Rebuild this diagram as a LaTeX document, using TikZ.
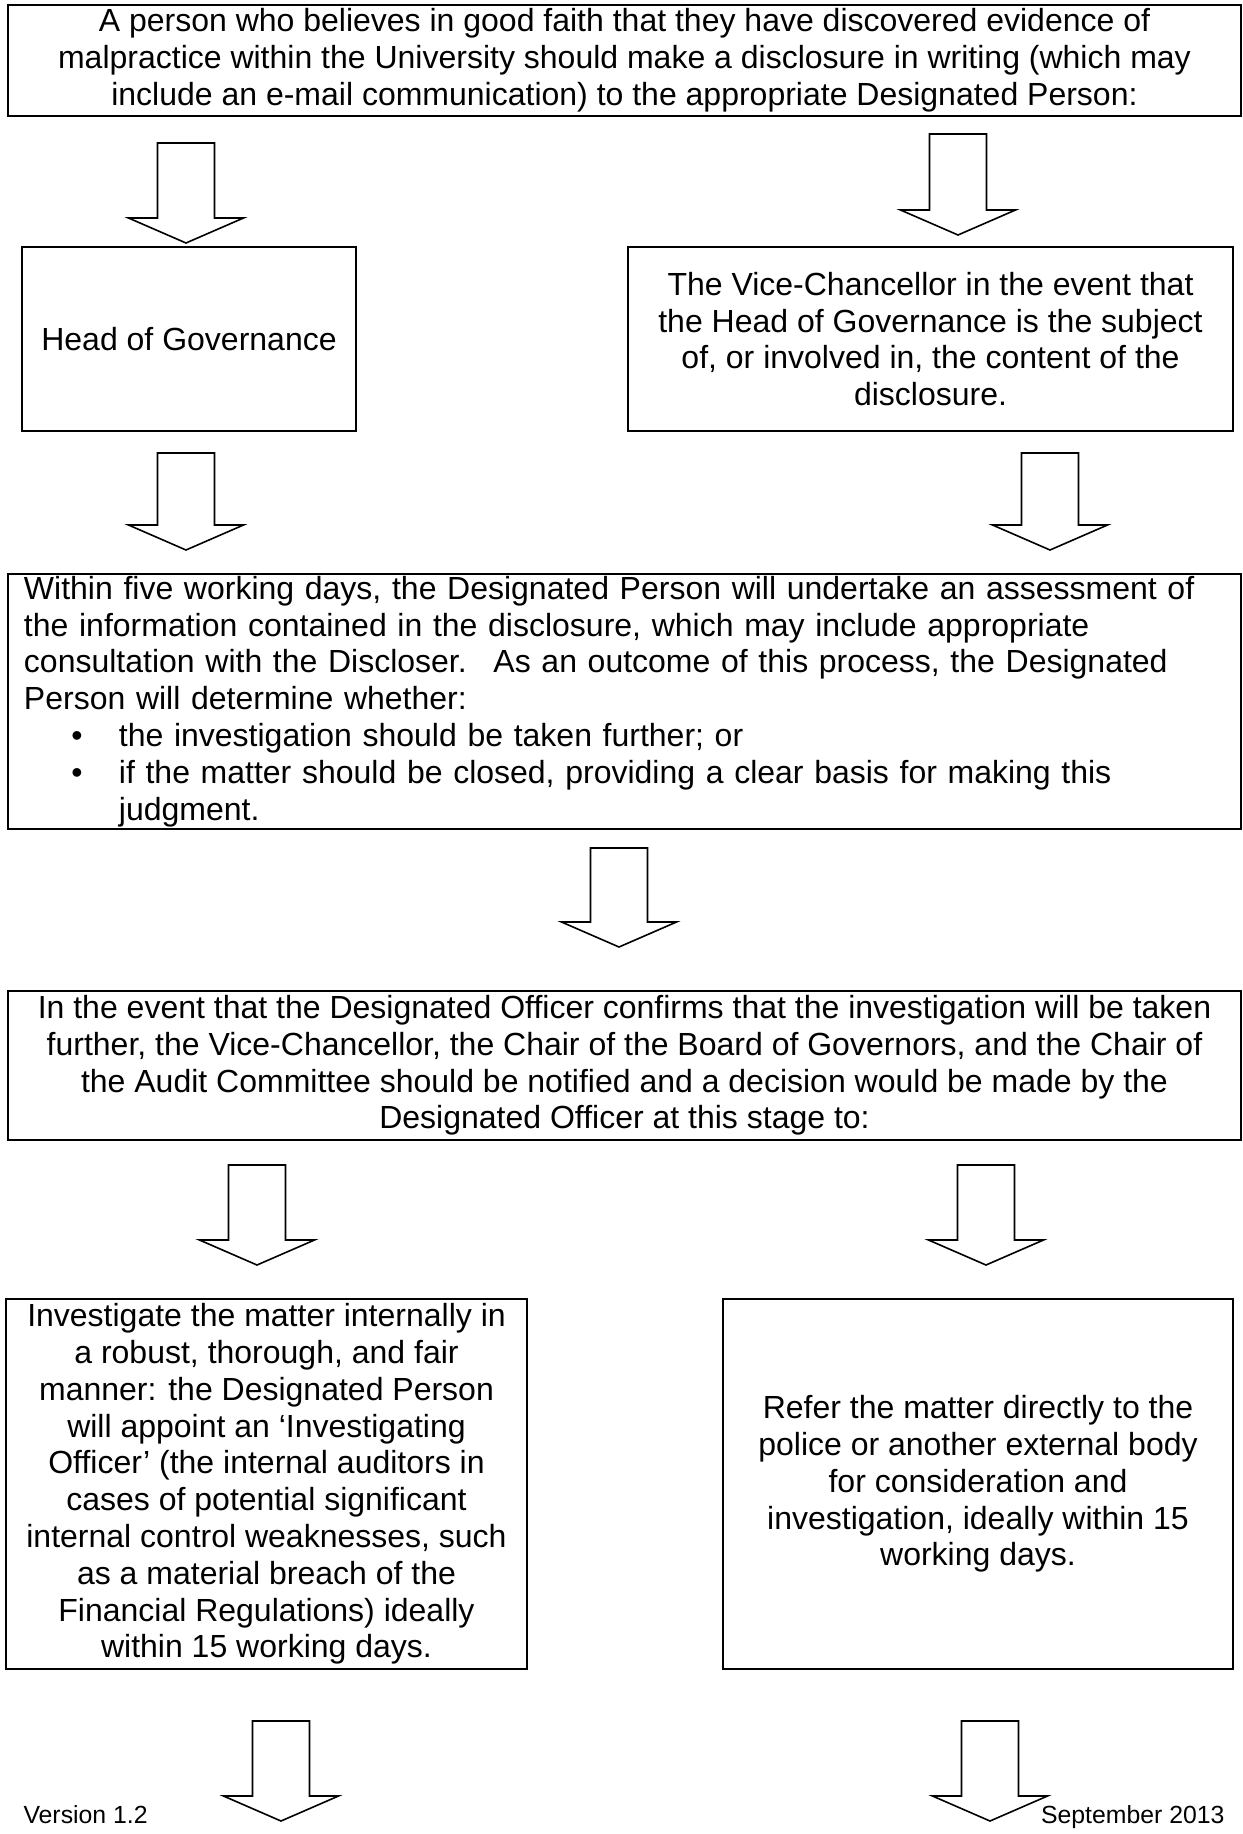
\documentclass[tikz,border=0pt]{standalone}
\usepackage{fontspec}
\setmainfont{Liberation Sans}
\tikzset{
  box/.style={draw, line width=1.1pt, inner sep=0pt, align=center,
    font=\fontsize{12}{13.8}\selectfont},
  blockarrow/.style={draw, line width=0.6pt, fill=white, line join=miter},
  footer/.style={inner sep=0pt, font=\fontsize{9.3}{11}\selectfont}
}
% box from corner (x1,y1) to (x2,y2), in px
\newcommand\flowbox[7][]{%
  \pgfmathsetmacro\fbcx{(#3+#5)/2}%
  \pgfmathsetmacro\fbcy{(#4+#6)/2}%
  \pgfmathsetmacro\fbww{(#5-#3)*0.375}%
  \pgfmathsetmacro\fbhh{(#6-#4)*0.375}%
  \node[box, minimum width=\fbww pt, minimum height=\fbhh pt, #1] (#2) at (\fbcx,\fbcy) {#7};}
% block arrow: name, centre x, top y, tip y
\newcommand\blockarr[4]{%
  \pgfmathsetmacro\bahb{#4-25}%
  \draw[blockarrow] (#2-28.5,#3) -- (#2+28.5,#3) -- (#2+28.5,\bahb) -- (#2+57.5,\bahb)
    -- (#2,#4) -- (#2-57.5,\bahb) -- (#2-28.5,\bahb) -- cycle;
  \coordinate (#1) at (#2,#4);}
\newcommand\bul{\makebox[35.6pt][l]{\hspace{17.8pt}\textbullet}}
\newcommand\ind{\hspace*{35.6pt}}
\begin{document}
\begin{tikzpicture}[x=0.375pt, y=-0.375pt]
\useasboundingbox (0,0) rectangle (1242,1834);

\flowbox{b1}{8}{5}{1241}{116}{A person who believes in good faith that they have discovered evidence of\\
malpractice within the University should make a disclosure in writing (which may\\
include an e-mail communication) to the appropriate Designated Person:}

\blockarr{a1}{186}{143}{243}
\blockarr{a2}{958}{134}{235}

\flowbox{b2a}{22}{247}{356}{431}{Head of Governance}
\flowbox{b2b}{628}{247}{1233}{431}{The Vice-Chancellor in the event that\\the Head of Governance is the subject\\of, or involved in, the content of the\\disclosure.}

\blockarr{a3}{186}{453}{550}
\blockarr{a4}{1050}{453}{550}

\flowbox[align=left, text width=450.375pt]{b3}{8}{574}{1241}{829}{Within five working days, the Designated Person will undertake an assessment of\\
the information contained in the disclosure, which may include appropriate\\
consultation with the Discloser.~ As an outcome of this process, the Designated\\
Person will determine whether:\\
\bul the investigation should be taken further; or\\
\bul if the matter should be closed, providing a clear basis for making this\\
\ind judgment.}

\blockarr{a5}{619}{848}{947}

\flowbox{b4}{8}{991}{1241}{1140}{In the event that the Designated Officer confirms that the investigation will be taken\\
further, the Vice-Chancellor, the Chair of the Board of Governors, and the Chair of\\
the Audit Committee should be notified and a decision would be made by the\\
Designated Officer at this stage to:}

\blockarr{a6}{257}{1165}{1265}
\blockarr{a7}{986}{1165}{1265}

\flowbox{b5a}{6}{1299}{527}{1669}{Investigate the matter internally in\\a robust, thorough, and fair\\manner: the Designated Person\\will appoint an ‘Investigating\\Officer’ (the internal auditors in\\cases of potential significant\\internal control weaknesses, such\\as a material breach of the\\Financial Regulations) ideally\\within 15 working days.}
\flowbox{b5b}{723}{1299}{1233}{1669}{Refer the matter directly to the\\police or another external body\\for consideration and\\investigation, ideally within 15\\working days.}

\blockarr{a8}{281}{1721}{1821}
\blockarr{a9}{990}{1721}{1821}

\node[footer, anchor=base west] (ver) at (23,1823) {Version 1.2};
\node[footer, anchor=base east] (date) at (1225,1823) {September 2013};
\end{tikzpicture}
\end{document}
